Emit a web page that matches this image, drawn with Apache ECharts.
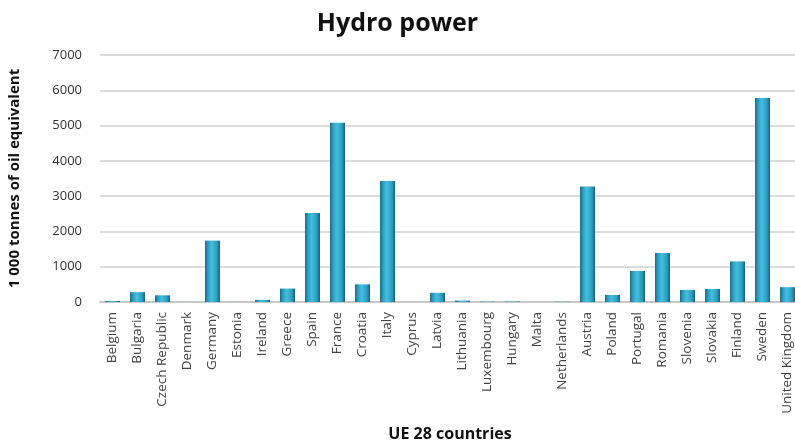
<!DOCTYPE html>
<html>
<head>
<meta charset="utf-8">
<script src="https://cdn.jsdelivr.net/npm/echarts@6/dist/echarts.min.js"></script>
<style>
  html, body { margin: 0; padding: 0; background: #fff; }
  #chart { width: 795px; height: 444px; }
</style>
</head>
<body>
<div id="chart"></div>
<script>
// EU-28 hydro power production, 1 000 tonnes of oil equivalent
const countries = [
  'Belgium', 'Bulgaria', 'Czech Republic', 'Denmark', 'Germany', 'Estonia', 'Ireland',
  'Greece', 'Spain', 'France', 'Croatia', 'Italy', 'Cyprus', 'Latvia', 'Lithuania',
  'Luxembourg', 'Hungary', 'Malta', 'Netherlands', 'Austria', 'Poland', 'Portugal',
  'Romania', 'Slovenia', 'Slovakia', 'Finland', 'Sweden', 'United Kingdom'
];
const hydroKtoe = [
  30, 280, 190, 2, 1740, 3, 60,
  380, 2520, 5080, 500, 3430, 0, 260, 40,
  10, 15, 0, 8, 3270, 200, 880,
  1390, 340, 370, 1150, 5780, 420
];
const yTicks = [0, 1000, 2000, 3000, 4000, 5000, 6000, 7000];

const chart = echarts.init(document.getElementById('chart'));
chart.setOption({
  animation: false,
  backgroundColor: '#ffffff',
  title: {
    text: 'Hydro power',
    left: 'center',
    top: 6,
    textStyle: { fontFamily: 'Open Sans', fontWeight: 'bold', fontSize: 25, color: '#111' }
  },
  grid: { left: 100, right: -5, top: 55, bottom: 142, outerBoundsMode: 'none', containLabel: false },
  xAxis: {
    type: 'category',
    data: countries,
    name: 'UE 28 countries',
    nameLocation: 'middle',
    nameGap: 124,
    nameTextStyle: { fontFamily: 'Open Sans', fontWeight: 'bold', fontSize: 16, color: '#111' },
    axisLine: { lineStyle: { color: '#c8c8c8', width: 2 } },
    axisTick: { show: false },
    axisLabel: {
      rotate: 90, interval: 0, margin: 10,
      fontFamily: 'Open Sans', fontSize: 13.5, color: '#444'
    }
  },
  yAxis: {
    type: 'value',
    min: yTicks[0],
    max: yTicks[yTicks.length - 1],
    interval: 1000,
    name: '1 000 tonnes of oil equivalent',
    nameLocation: 'middle',
    nameGap: 78,
    nameTextStyle: { fontFamily: 'Open Sans', fontWeight: 'bold', fontSize: 15, color: '#111' },
    axisLine: { show: false },
    axisTick: { show: false },
    axisLabel: {
      margin: 18, fontFamily: 'Open Sans', fontSize: 13, color: '#333',
      formatter: v => String(v)
    },
    splitLine: { lineStyle: { color: '#dcdcdc', width: 2 } }
  },
  series: [{
    type: 'bar',
    data: hydroKtoe,
    barWidth: 15,
    itemStyle: {
      color: new echarts.graphic.LinearGradient(0, 0, 1, 0, [
        { offset: 0, color: '#1d6a82' },
        { offset: 0.2, color: '#2b9fc2' },
        { offset: 0.45, color: '#45bfe0' },
        { offset: 0.8, color: '#2a9cbf' },
        { offset: 1, color: '#1a5f75' }
      ])
    }
  }]
});
</script>
</body>
</html>
